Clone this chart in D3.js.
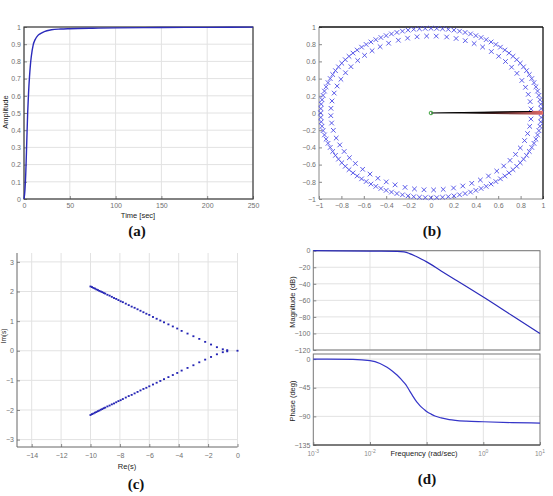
<!DOCTYPE html>
<html><head><meta charset="utf-8">
<script src="https://cdn.jsdelivr.net/npm/d3@7"></script>
<style>body{margin:0;background:#fff}svg{display:block}</style>
</head><body>
<script>
// ---------- DATA ----------
// (a) step response
const stepTime = [0, 1, 2, 3, 4, 5, 6, 7, 8, 10, 12, 15, 18, 20, 25, 30, 40, 50, 75, 100, 150, 200, 250];
const stepAmp  = [0, 0.05, 0.16, 0.33, 0.5, 0.62, 0.71, 0.78, 0.83, 0.895, 0.925, 0.95, 0.962, 0.968, 0.978, 0.984, 0.988, 0.99, 0.993, 0.995, 0.997, 0.998, 0.999];
const ampTicks = [0, 0.1, 0.2, 0.3, 0.4, 0.5, 0.6, 0.7, 0.8, 0.9, 1];
const timeTicks = [0, 50, 100, 150, 200, 250];

// (b) pole rings (angle in degrees, radius)
const outerRadius = 0.985;
const outerAngles = [0, 3, 6, 9, 12, 15, 18, 21, 24, 27, 30, 33, 36, 39, 42, 45, 48, 51, 54, 57,
  60, 63, 66, 69, 72, 75, 78, 81, 84, 87, 90, 93, 96, 99, 102, 105, 108, 111, 114, 117,
  120, 123, 126, 129, 132, 135, 138, 141, 144, 147, 150, 153, 156, 159, 162, 165, 168, 171, 174, 177,
  180, 183, 186, 189, 192, 195, 198, 201, 204, 207, 210, 213, 216, 219, 222, 225, 228, 231, 234, 237,
  240, 243, 246, 249, 252, 255, 258, 261, 264, 267, 270, 273, 276, 279, 282, 285, 288, 291, 294, 297,
  300, 303, 306, 309, 312, 315, 318, 321, 324, 327, 330, 333, 336, 339, 342, 345, 348, 351, 354, 357];
const innerRadius = 0.895;
const innerAngles = [3, 8.5, 14, 19.5, 25, 31, 36.5, 42, 47.5, 53, 59, 64.5, 70, 75.5, 81, 87,
  92.5, 98, 103.5, 109, 115, 120.5, 126, 131.5, 137, 143, 148.5, 154, 159.5, 165, 171, 176.5,
  182, 187.5, 193, 199, 204.5, 210, 215.5, 221, 227, 232.5, 238, 243.5, 249, 255, 260.5, 266,
  271.5, 277, 283, 288.5, 294, 299.5, 305, 311, 316.5, 322, 327.5, 333, 339, 344.5, 350, 355.5];
const unitTicks = [-1, -0.8, -0.6, -0.4, -0.2, 0, 0.2, 0.4, 0.6, 0.8, 1];
const vecStart = [0, 0];
const vecEnd = [1, 0.02];

// (c) root locus points
const reUpper = [-10, -9.9, -9.8, -9.7, -9.6, -9.5, -9.4, -9.3, -9.2, -9.1, -9.0, -8.85, -8.7, -8.55, -8.4, -8.25, -8.1, -7.95, -7.8, -7.6, -7.4, -7.2, -7.0, -6.8, -6.6, -6.4, -6.2, -6.0, -5.75, -5.5, -5.25, -5.0, -4.7, -4.4, -4.1, -3.8, -3.4, -3.0, -2.6, -2.2, -1.8, -1.4, -1.0, -0.7];
const imUpper = [2.17, 2.15, 2.12, 2.10, 2.07, 2.05, 2.02, 2.00, 1.98, 1.95, 1.93, 1.89, 1.86, 1.82, 1.78, 1.75, 1.71, 1.67, 1.64, 1.59, 1.54, 1.49, 1.45, 1.40, 1.35, 1.30, 1.25, 1.21, 1.14, 1.08, 1.02, 0.96, 0.89, 0.82, 0.75, 0.67, 0.58, 0.49, 0.40, 0.30, 0.21, 0.12, 0.05, 0.02];
const reLower = [-10, -9.9, -9.8, -9.7, -9.6, -9.5, -9.4, -9.3, -9.2, -9.1, -9.0, -8.85, -8.7, -8.55, -8.4, -8.25, -8.1, -7.95, -7.8, -7.6, -7.4, -7.2, -7.0, -6.8, -6.6, -6.4, -6.2, -6.0, -5.75, -5.5, -5.25, -5.0, -4.7, -4.4, -4.1, -3.8, -3.4, -3.0, -2.6, -2.2, -1.8, -1.4, -1.0, -0.7, 0];
const imLower = [-2.17, -2.14, -2.12, -2.09, -2.07, -2.04, -2.02, -1.99, -1.97, -1.94, -1.92, -1.88, -1.85, -1.81, -1.78, -1.74, -1.70, -1.67, -1.63, -1.58, -1.53, -1.49, -1.44, -1.39, -1.34, -1.29, -1.25, -1.20, -1.14, -1.08, -1.02, -0.96, -0.89, -0.82, -0.75, -0.67, -0.58, -0.49, -0.39, -0.30, -0.21, -0.12, -0.05, -0.02, 0];
const reTicks = [-14, -12, -10, -8, -6, -4, -2, 0];
const imTicks = [-3, -2, -1, 0, 1, 2, 3];

// (d) Bode
const magFreq = [0.001, 0.01, 0.03, 0.04, 0.05, 0.063, 0.08, 0.1, 0.18, 0.32, 1, 3.16, 10];
const bodeMag = [0, -0.5, -0.8, -1.5, -3.5, -6.5, -10, -13.5, -24.5, -35, -56, -78, -100];
const phaseFreq = [0.001, 0.005, 0.01, 0.015, 0.02, 0.025, 0.03, 0.035, 0.04, 0.045, 0.05, 0.056, 0.063, 0.071, 0.08, 0.09, 0.1, 0.12, 0.14, 0.18, 0.25, 0.32, 0.5, 1, 3.16, 10];
const bodePhase = [0, -0.5, -2.5, -7, -13, -19, -25, -31, -37, -43, -50, -57, -64, -70, -75, -79, -82.5, -86.5, -89.5, -92.5, -95, -96.2, -97.5, -98.5, -99.8, -100.5];
const freqTicks = [0.001, 0.01, 1, 10];
const freqExp = ["-3", "-2", "0", "1"];
const gridFreq = [0.01, 0.1, 1];
const magTicks = [0, -20, -40, -60, -80, -100, -120];
const phaseTicks = [0, -45, -90, -135];

// ---------- DRAW ----------
const W = 553, H = 496;
const svg = d3.select("body").append("svg").attr("width", W).attr("height", H)
  .style("font-family", "'Liberation Sans', Arial, sans-serif");

const tickFont = 7, tickColor = "#707070", titleColor = "#222", gridColor = "#e2e2e2", boxColor = "#3a3a3a";

function styleAxis(g) {
  g.selectAll("path.domain").remove();
  g.selectAll(".tick line").attr("stroke", "#888");
  g.selectAll(".tick text").attr("font-size", tickFont).attr("fill", tickColor);
}
function gridX(g, x, ticks, y0, y1) {
  g.append("g").selectAll("line").data(ticks).join("line")
    .attr("x1", d => x(d)).attr("x2", d => x(d)).attr("y1", y0).attr("y2", y1)
    .attr("stroke", gridColor).attr("stroke-width", 1);
}
function gridY(g, y, ticks, x0, x1) {
  g.append("g").selectAll("line").data(ticks).join("line")
    .attr("y1", d => y(d)).attr("y2", d => y(d)).attr("x1", x0).attr("x2", x1)
    .attr("stroke", gridColor).attr("stroke-width", 1);
}
function caption(txt, x, y) {
  svg.append("text").attr("x", x).attr("y", y).attr("text-anchor", "middle")
    .attr("font-family", "'Liberation Serif', 'Times New Roman', serif")
    .attr("font-size", 15).attr("font-weight", "bold").attr("fill", "#111").text(txt);
}
function yTitle(txt, x, y) {
  svg.append("text").attr("transform", `translate(${x},${y}) rotate(-90)`)
    .attr("text-anchor", "middle").attr("font-size", 7.5).attr("fill", titleColor).text(txt);
}
function xTitle(txt, x, y) {
  svg.append("text").attr("x", x).attr("y", y).attr("text-anchor", "middle")
    .attr("font-size", 7.5).attr("fill", titleColor).text(txt);
}

// ===== (a) =====
{
  const x = d3.scaleLinear([0, 250], [24, 253]);
  const y = d3.scaleLinear([0, 1], [199, 27]);
  const g = svg.append("g");
  gridX(g, x, timeTicks, y(0), y(1));
  gridY(g, y, ampTicks, x(0), x(250));
  g.append("g").attr("transform", `translate(0,${y(0)})`)
    .call(d3.axisBottom(x).tickValues(timeTicks).tickSizeInner(-3).tickSizeOuter(0).tickPadding(4)).call(styleAxis);
  g.append("g").attr("transform", `translate(${x(0)},0)`)
    .call(d3.axisLeft(y).tickValues(ampTicks).tickFormat(d3.format("~g")).tickSizeInner(-3).tickSizeOuter(0).tickPadding(3)).call(styleAxis);
  g.append("rect").attr("x", x(0)).attr("y", y(1)).attr("width", x(250) - x(0)).attr("height", y(0) - y(1))
    .attr("fill", "none").attr("stroke", boxColor).attr("stroke-width", 1.2);
  g.append("path").datum(stepTime.map((t, i) => [t, stepAmp[i]]))
    .attr("d", d3.line().x(d => x(d[0])).y(d => y(d[1])).curve(d3.curveMonotoneX))
    .attr("fill", "none").attr("stroke", "#2b2bbb").attr("stroke-width", 1.4);
  xTitle("Time [sec]", 138, 218);
  yTitle("Amplitude", 8, 112);
  caption("(a)", 137, 236);
}

// ===== (b) =====
{
  const x = d3.scaleLinear([-1, 1], [319, 543]);
  const y = d3.scaleLinear([-1, 1], [199, 27]);
  const g = svg.append("g");
  g.append("g").attr("transform", `translate(0,${y(-1)})`)
    .call(d3.axisBottom(x).tickValues(unitTicks).tickFormat(d3.format("~g")).tickSizeInner(-3).tickSizeOuter(0).tickPadding(4)).call(styleAxis);
  g.append("g").attr("transform", `translate(${x(-1)},0)`)
    .call(d3.axisLeft(y).tickValues(unitTicks).tickFormat(d3.format("~g")).tickSizeInner(-3).tickSizeOuter(0).tickPadding(3)).call(styleAxis);
  g.append("line").attr("x1", x(-1)).attr("x2", x(-1)).attr("y1", y(-1)).attr("y2", y(1)).attr("stroke", "#888");
  g.append("line").attr("x1", x(-1)).attr("x2", x(1)).attr("y1", y(-1)).attr("y2", y(-1)).attr("stroke", "#888");
  g.append("line").attr("x1", x(-1)).attr("x2", x(1)).attr("y1", y(1)).attr("y2", y(1)).attr("stroke", "#111").attr("stroke-width", 1.3);
  g.append("line").attr("x1", x(1)).attr("x2", x(1)).attr("y1", y(-1)).attr("y2", y(1)).attr("stroke", "#111").attr("stroke-width", 1.3);

  const cross = "M-2.3,-2.3L2.3,2.3M-2.3,2.3L2.3,-2.3";
  const rings = [
    ...outerAngles.map(a => ({r: outerRadius, a})),
    ...innerAngles.map(a => ({r: innerRadius, a}))
  ];
  g.append("g").selectAll("path").data(rings).join("path")
    .attr("transform", d => `translate(${x(d.r * Math.cos(d.a * Math.PI / 180))},${y(d.r * Math.sin(d.a * Math.PI / 180))})`)
    .attr("d", cross).attr("fill", "none").attr("stroke", "#4a4ae6").attr("stroke-width", 0.9);

  const defs = svg.append("defs");
  const grad = defs.append("linearGradient").attr("id", "vecGrad")
    .attr("gradientUnits", "userSpaceOnUse")
    .attr("x1", x(vecStart[0])).attr("x2", x(vecEnd[0])).attr("y1", 0).attr("y2", 0);
  grad.append("stop").attr("offset", 0).attr("stop-color", "#000");
  grad.append("stop").attr("offset", 0.45).attr("stop-color", "#1a0a0a");
  grad.append("stop").attr("offset", 1).attr("stop-color", "#e06a6a");
  g.append("path")
    .attr("d", `M${x(vecStart[0])},${y(vecStart[1])}L${x(vecEnd[0])},${y(vecEnd[1] + 0.005)}L${x(vecEnd[0])},${y(-vecEnd[1])}Z`)
    .attr("fill", "url(#vecGrad)");
  g.append("line").attr("x1", x(vecStart[0])).attr("y1", y(vecStart[1]))
    .attr("x2", x(vecEnd[0] * 0.9)).attr("y2", y(vecEnd[1] * 0.9))
    .attr("stroke", "#000").attr("stroke-width", 1.1);
  g.append("circle").attr("cx", x(vecStart[0])).attr("cy", y(vecStart[1])).attr("r", 1.8)
    .attr("fill", "none").attr("stroke", "#2a9a2a").attr("stroke-width", 0.9);
  caption("(b)", 432, 236);
}

// ===== (c) =====
{
  const x = d3.scaleLinear([-15, 0], [17, 237.5]);
  const y = d3.scaleLinear([-3.25, 3.3], [447, 253]);
  const g = svg.append("g");
  gridX(g, x, reTicks, y(-3.25), y(3.3));
  gridY(g, y, imTicks, x(-15), x(0));
  g.append("g").attr("transform", `translate(0,${y(-3.25)})`)
    .call(d3.axisBottom(x).tickValues(reTicks).tickFormat(d3.format("d")).tickSizeInner(-3).tickSizeOuter(0).tickPadding(6)).call(styleAxis);
  g.append("g").attr("transform", `translate(${x(-15)},0)`)
    .call(d3.axisLeft(y).tickValues(imTicks).tickFormat(d3.format("d")).tickSizeInner(-3).tickSizeOuter(0).tickPadding(3)).call(styleAxis);
  g.append("line").attr("x1", x(-15)).attr("x2", x(-15)).attr("y1", y(-3.25)).attr("y2", y(3.3)).attr("stroke", "#666");
  g.append("line").attr("x1", x(-15)).attr("x2", x(0)).attr("y1", y(-3.25)).attr("y2", y(-3.25)).attr("stroke", "#666");
  const pts = [
    ...reUpper.map((r, i) => [r, imUpper[i]]),
    ...reLower.map((r, i) => [r, imLower[i]])
  ];
  g.append("g").selectAll("rect").data(pts).join("rect")
    .attr("x", d => x(d[0]) - 1).attr("y", d => y(d[1]) - 0.9).attr("width", 2).attr("height", 1.8)
    .attr("fill", "#2424b4");
  xTitle("Re(s)", 127, 469);
  svg.append("text").attr("transform", `translate(6,336) rotate(-90)`)
    .attr("text-anchor", "middle").attr("font-size", 6.5).attr("fill", titleColor).text("Im(s)");
  caption("(c)", 136, 489);
}

// ===== (d) =====
{
  const x = d3.scaleLog([0.001, 10], [313.3, 540]);
  const yM = d3.scaleLinear([0, -120], [250.7, 350]);
  const yP = d3.scaleLinear([8, -135], [354, 445]);
  const g = svg.append("g");
  // magnitude
  gridX(g, x, gridFreq, yM(0), yM(-120));
  gridY(g, yM, magTicks, x(0.001), x(10));
  g.append("g").attr("transform", `translate(${x(0.001)},0)`)
    .call(d3.axisLeft(yM).tickValues(magTicks).tickSizeInner(-3).tickSizeOuter(0).tickPadding(3)).call(styleAxis);
  g.append("rect").attr("x", x(0.001)).attr("y", yM(0)).attr("width", x(10) - x(0.001)).attr("height", yM(-120) - yM(0))
    .attr("fill", "none").attr("stroke", "#777").attr("stroke-width", 1);
  g.append("path").datum(magFreq.map((f, i) => [f, bodeMag[i]]))
    .attr("d", d3.line().x(d => x(d[0])).y(d => yM(d[1])).curve(d3.curveMonotoneX))
    .attr("fill", "none").attr("stroke", "#2b2bbb").attr("stroke-width", 1.2);
  // phase
  gridX(g, x, gridFreq, yP(8), yP(-135));
  gridY(g, yP, phaseTicks, x(0.001), x(10));
  g.append("g").attr("transform", `translate(${x(0.001)},0)`)
    .call(d3.axisLeft(yP).tickValues(phaseTicks).tickSizeInner(-3).tickSizeOuter(0).tickPadding(3)).call(styleAxis);
  g.append("g").attr("transform", `translate(0,${yP(-135)})`)
    .call(d3.axisBottom(x).tickValues(gridFreq.concat([0.001, 10])).tickFormat("").tickSizeInner(-3).tickSizeOuter(0)).call(styleAxis);
  g.append("rect").attr("x", x(0.001)).attr("y", yP(8)).attr("width", x(10) - x(0.001)).attr("height", yP(-135) - yP(8))
    .attr("fill", "none").attr("stroke", "#777").attr("stroke-width", 1);
  g.append("line").attr("x1", x(0.001)).attr("x2", x(10)).attr("y1", yP(-135)).attr("y2", yP(-135)).attr("stroke", "#444");
  g.append("path").datum(phaseFreq.map((f, i) => [f, bodePhase[i]]))
    .attr("d", d3.line().x(d => x(d[0])).y(d => yP(d[1])).curve(d3.curveMonotoneX))
    .attr("fill", "none").attr("stroke", "#3535c8").attr("stroke-width", 1.2);
  // log tick labels
  const lab = g.append("g").selectAll("text").data(freqTicks).join("text")
    .attr("x", d => x(d)).attr("y", 456).attr("text-anchor", "middle")
    .attr("font-size", 6.5).attr("fill", "#8a8a8a");
  lab.append("tspan").text("10");
  lab.append("tspan").attr("dy", -3).attr("font-size", 5).text((d, i) => freqExp[i]);
  xTitle("Frequency (rad/sec)", 424, 456);
  yTitle("Magnitude (dB)", 295, 302);
  yTitle("Phase (deg)", 295, 401);
  caption("(d)", 427, 484);
}
</script>
</body></html>
